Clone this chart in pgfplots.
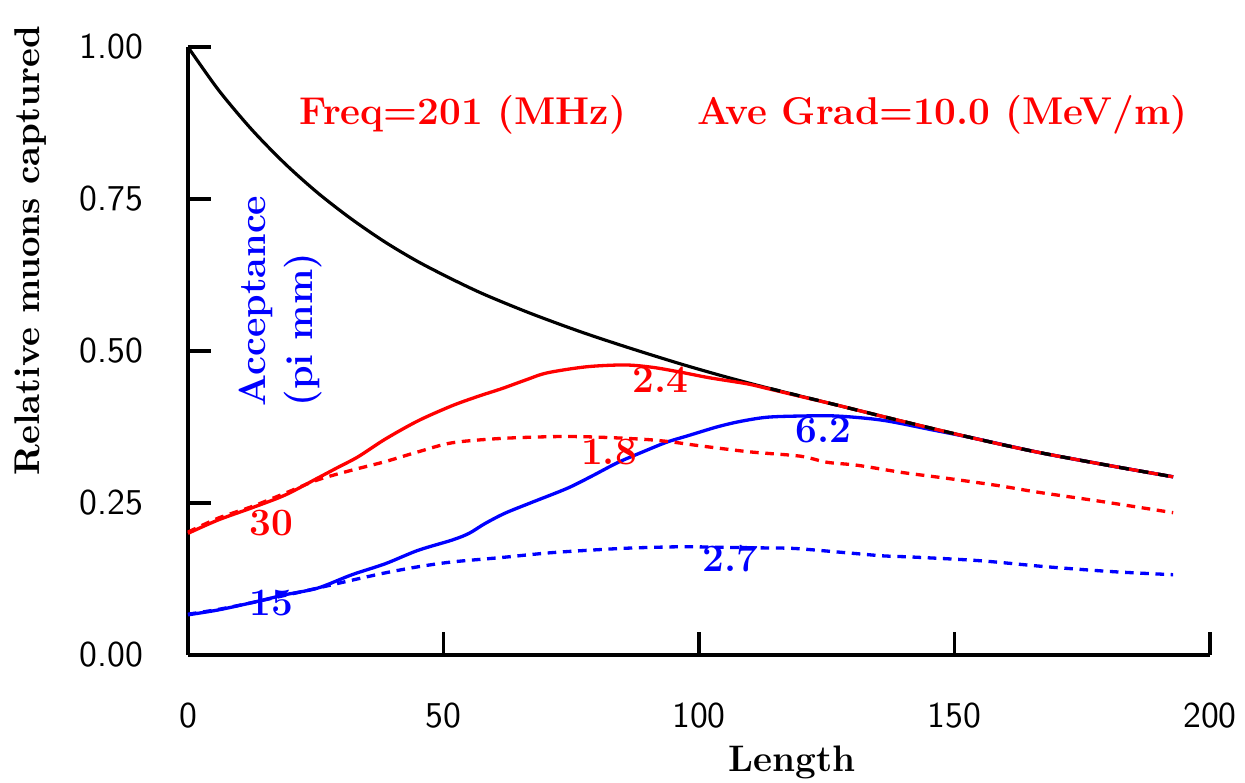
\documentclass[border=0pt]{standalone}
\usepackage{fontspec}
\usepackage{pgfplots}
\pgfplotsset{compat=1.18}
\pgfplotstableread{
x y
0 1.000
6 0.929
12.5 0.864
19 0.808
25.4 0.760
32 0.717
38.6 0.679
45 0.647
51.7 0.618
58 0.593
67 0.562
76.7 0.532
86 0.506
96.3 0.479
105 0.458
114 0.438
127 0.411
140 0.384
153 0.358
166 0.334
180 0.312
192.8 0.293
}\blacktab
\pgfplotstableread{
x y
114 0.438
127 0.411
140 0.384
153 0.358
166 0.334
180 0.312
192.8 0.293
}\blacktail
\pgfplotstableread{
x y
0 0.200
5.9 0.222
12.5 0.242
19 0.263
25.4 0.291
29 0.307
33.3 0.326
38.6 0.355
45 0.385
51.7 0.410
57 0.426
61.4 0.438
66 0.452
70.3 0.464
78 0.474
85.5 0.477
91 0.473
96.5 0.465
102 0.456
109.4 0.446
114 0.437
120 0.425
127 0.411
140 0.384
153 0.358
166 0.334
180 0.312
192.8 0.293
}\redsolid
\pgfplotstableread{
x y
0 0.202
5.9 0.225
12.5 0.244
19 0.266
25.4 0.288
32.1 0.304
38.6 0.318
45 0.334
51.7 0.349
61 0.356
70.8 0.359
77.3 0.359
84 0.357
90.4 0.354
95 0.350
100.2 0.344
110 0.334
119.8 0.327
125 0.317
131 0.312
139.9 0.300
149 0.290
159 0.278
166.1 0.268
179.1 0.252
192.8 0.234
}\reddash
\pgfplotstableread{
x y
0 0.066
5.9 0.074
12.5 0.086
19 0.099
25.4 0.110
32.1 0.132
38.6 0.150
45 0.172
51.7 0.189
55 0.200
58.1 0.216
62 0.233
67 0.250
74.2 0.274
79 0.294
84 0.316
89 0.334
93.7 0.350
98 0.361
103.5 0.375
108 0.384
113.3 0.391
119.8 0.393
127 0.393
136 0.386
145.8 0.370
153 0.358
166 0.334
180 0.312
192.8 0.293
}\bluesolid
\pgfplotstableread{
x y
0 0.067
6 0.075
12.5 0.086
19 0.098
25.4 0.110
32.1 0.123
38.6 0.135
45 0.145
51.7 0.153
61 0.160
70.8 0.168
80 0.173
87.1 0.176
96.9 0.178
105 0.177
113.3 0.176
119 0.175
129 0.168
136 0.163
141.9 0.161
155 0.155
168.1 0.145
181 0.137
192.8 0.132
}\bluedash
\begin{document}
\begin{tikzpicture}
\begin{axis}[
 name=ax,
 scale only axis, width=308.8pt, height=183.7pt,
 xmin=0, xmax=200, ymin=0, ymax=1,
 axis x line=bottom, axis y line=left,
 axis line style={-, line width=1.1pt},
 tick align=inside,
 major tick length=7pt,
 every tick/.style={black, line width=1.1pt},
 xtick={0,50,100,150,200},
 ytick={0,0.25,0.5,0.75,1},
 yticklabel style={/pgf/number format/fixed, /pgf/number format/fixed zerofill, /pgf/number format/precision=2, xshift=-10pt},
 xticklabel style={yshift=-11pt},
 ticklabel style={font=\fontsize{11}{13}\selectfont\sffamily},
 /pgf/number format/assume math mode=true,
 clip=false,
]
\addplot[black, line width=0.95pt, smooth] table {\blacktab};
\addplot[blue, line width=1pt, smooth] table {\bluesolid};
\addplot[red, line width=1pt, smooth] table {\redsolid};
\addplot[black, line width=1pt, smooth, dash pattern=on 3pt off 3pt] table {\blacktail};
\addplot[red, line width=1pt, smooth, dash pattern=on 2.6pt off 2pt] table {\reddash};
\addplot[blue, line width=1pt, smooth, dash pattern=on 2.6pt off 2pt] table {\bluedash};

\node[font=\fontsize{11.7}{14}\selectfont\bfseries, text=red] at (axis cs:53.8,0.888) {Freq=201 (MHz)};
\node[font=\fontsize{11.7}{14}\selectfont\bfseries, text=red] at (axis cs:147.7,0.888) {Ave Grad=10.0 (MeV/m)};
\node[rotate=90, anchor=base west, inner sep=0pt, text=blue, font=\fontsize{11.4}{14}\selectfont\bfseries] at (axis cs:15.1,0.408) {Acceptance};
\node[rotate=90, anchor=base west, inner sep=0pt, text=blue, font=\fontsize{11.4}{14}\selectfont\bfseries] at (axis cs:24.3,0.408) {(pi mm)};
\node[font=\fontsize{11.7}{14}\selectfont\bfseries, text=red] at (axis cs:16.4,0.217) {30};
\node[font=\fontsize{11.7}{14}\selectfont\bfseries, text=blue] at (axis cs:16.4,0.0855) {15};
\node[font=\fontsize{11.7}{14}\selectfont\bfseries, text=red] at (axis cs:92.4,0.452) {2.4};
\node[font=\fontsize{11.7}{14}\selectfont\bfseries, text=red] at (axis cs:82.4,0.334) {1.8};
\node[font=\fontsize{11.7}{14}\selectfont\bfseries, text=blue] at (axis cs:124.3,0.370) {6.2};
\node[font=\fontsize{11.7}{14}\selectfont\bfseries, text=blue] at (axis cs:106.2,0.158) {2.7};
\node[rotate=90, font=\fontsize{10.8}{13}\selectfont\bfseries] at (axis cs:-30.9,0.665) {Relative muons captured};
\node[font=\fontsize{11.15}{13}\selectfont\bfseries] at (axis cs:118.2,-0.176) {Length};
\end{axis}
\pgfresetboundingbox
\path[use as bounding box] ([shift={(-56.8pt,-38.4pt)}]ax.south west) rectangle ([shift={(10.6pt,14.2pt)}]ax.north east);
\end{tikzpicture}
\end{document}
